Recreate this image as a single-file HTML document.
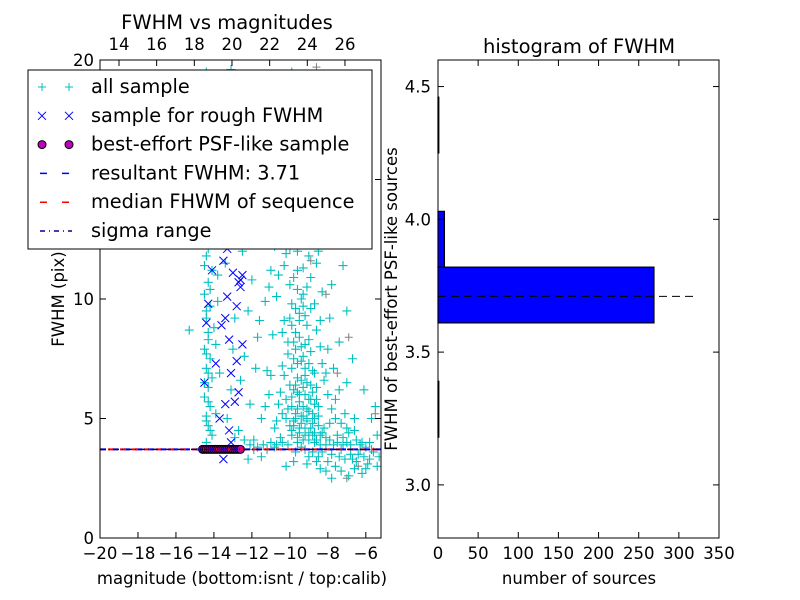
<!DOCTYPE html>
<html><head><meta charset="utf-8"><style>
body{margin:0;background:#fff;}
svg{display:block;font-family:"DejaVu Sans","Liberation Sans",sans-serif;}
</style></head><body>
<svg id="c" width="800" height="600" viewBox="0 0 800 600"></svg>
<script>
const cyanPts=[[-14.4,19.5],[-14.2,18.2],[-14.5,17],[-14.1,16.3],[-14.3,15.5],[-14.4,14.8],[-14.0,14.2],[-14.3,13.6],[-14.5,13],[-14.2,12.4],[-14.4,11.8],[-14.1,11.2],[-14.3,10.7],[-14.5,10.2],[-14.2,9.7],[-14.4,9.2],[-14.0,8.8],[-14.3,8.3],[-14.5,7.9],[-14.2,7.5],[-14.4,7.1],[-14.1,6.7],[-14.3,6.3],[-14.5,5.9],[-14.2,5.5],[-14.4,5.1],[-14.3,4.7],[-14.1,4.3],[-14.4,4.0],[-13.9,12.8],[-13.8,9.9],[-13.7,6.9],[-13.9,5.2],
[-14.3,19.0],[-14.4,17.6],[-14.2,16.8],[-14.5,15.9],[-14.3,14.3],[-14.4,12.9],[-14.3,12.1],[-14.5,11.4],[-14.2,10.4],[-14.4,9.5],[-14.3,8.6],[-14.4,7.7],[-14.3,6.9],[-14.5,6.5],[-14.3,5.7],[-14.4,4.9],[-14.2,4.5],[-13.9,8.1],[-13.8,11.0],[-13.9,15.0],
[-13.2,18.8],[-12.6,17.5],[-13,16],[-12.2,15.2],[-11.8,14],[-12.8,13.3],[-11.5,12.5],[-13.4,11.5],[-12,10.8],[-11.3,9.9],[-12.9,9.2],[-11.7,8.4],[-12.4,7.6],[-11.2,7.0],[-13.1,6.2],[-12.1,5.6],[-11.5,5.0],[-12.7,4.5],[-11.9,4.1],[-11,11.2],[-11.1,6],[-10.9,16.5],[-10.7,13.8],[-11.4,17.8],[-12.4,19.3],[-15.3,8.7],
[-10.5,12.8],[-10.2,11.9],[-9.8,12.4],[-9.6,11.2],[-10,10.6],[-9.3,10.2],[-9.9,9.8],[-9.5,9.4],[-10.3,9.1],[-9.1,8.9],[-9.7,8.6],[-10.1,8.2],[-9.4,8],[-8.9,7.8],[-9.8,7.5],[-10.4,7.2],[-9.2,7.1],[-8.7,6.9],[-9.6,6.7],[-10,6.4],[-9.3,6.3],[-8.8,6.1],[-9.9,5.9],[-9.5,5.7],[-10.6,5.6],[-8.5,5.5],[-9.1,5.4],[-9.7,5.2],[-10.2,5.0],[-8.7,5.0],[-9.4,4.8],[-8.9,4.6],[-9.9,4.5],[-8.3,4.4],[-9.2,4.3],[-10.5,4.2],[-8.6,4.1],[-9.6,4.0],[-8.1,3.9],[-7.9,4.8],[-7.5,4.3],[-7.2,3.9],[-6.8,3.5],[-7.0,4.6],[-6.5,3.2],[-6.2,4.0],[-5.8,3.3],[-5.5,5.5],[-6,2.9],[-7.6,5.8],[-8.2,6.6],[-8,7.9],[-8.4,9.1],[-9,13.5],[-8.6,11.5],[-9.3,15.2],[-8.8,14.2],[-10.1,14.8],[-9.5,16.8],[-8.2,12.4],[-7.8,10.6],[-7.4,8.2],[-10.7,10.1],[-10.9,8.5],[-11,6.8],[-10.8,4.6],[-9.8,3.2],[-8.4,2.9],[-9,3.4],[-10.2,3.0],[-7.8,2.5],[-6.9,2.6],[-5.4,3.0],[-11.5,3.4],[-12.2,3.3],[-9.9,19.5],[-8.9,17.8],[-10.4,18.5],[-7,6.5],[-6.6,5],[-8.3,3.6],[-9.4,3.8],[-10.8,3.8],[-7.3,3.7],[-6.3,3.7],[-5.7,3.7],[-11.9,3.7],[-11.2,3.7],
[-9.7,7.9],[-9.2,6.8],[-9.6,6.1],[-9.0,5.8],[-9.8,4.9],[-9.1,4.9],[-9.5,4.4],[-8.8,4.3],[-10.0,4.7],[-9.3,5.1],[-8.6,5.8],[-10.1,5.4],[-9.4,7.4],[-9.9,8.9],[-9.3,9.7],[-9.6,10.4],[-10.3,11.4],[-8.9,9.6],[-9.0,8.3]];
const denseCore=[[-9.8,8.2],[-9.5,8.4],[-9.2,8.1],[-9.9,7.1],[-9.6,7.3],[-9.3,7.6],[-9.0,7.3],[-8.8,7.0],[-9.7,6.4],[-9.4,6.6],[-9.1,6.5],[-8.9,6.4],[-8.6,6.3],[-9.8,6.2],[-9.5,6.0],[-9.2,6.0],[-8.9,5.8],[-8.7,5.6],[-9.9,5.5],[-9.6,5.4],[-9.3,5.5],[-9.0,5.3],[-8.8,5.2],[-8.5,5.1],[-9.7,5.0],[-9.4,5.1],[-9.1,5.0],[-8.8,4.8],[-8.5,4.7],[-8.2,4.6],[-9.8,4.7],[-9.5,4.6],[-9.2,4.6],[-9.0,4.4],[-8.7,4.4],[-8.4,4.3],[-8.1,4.2],[-9.9,4.3],[-9.6,4.2],[-9.3,4.1],[-9.0,4.1],[-8.7,4.0],[-8.4,3.9],[-7.9,4.1],[-7.7,3.9],[-7.5,4.0],[-7.2,4.2],[-7.0,4.0],[-6.8,3.9],[-6.5,4.1],[-6.3,3.9],[-6.0,3.8],[-5.8,4.0],[-5.6,3.6],[-7.8,3.5],[-7.4,3.4],[-7.1,3.3],[-6.7,3.3],[-6.4,3.5],[-6.1,3.4],[-5.9,3.1],[-10.4,4.0],[-10.7,3.9],[-11.0,4.0],[-11.4,3.9],[-11.7,3.8],[-12.1,3.9],[-10.1,3.9],[-9.7,3.6],[-9.2,3.7],[-8.8,3.6],[-8.5,3.4],[-8.0,3.2],[-8.6,3.2],[-9.1,3.1],[-7.6,3.0],[-7.3,2.8],[-6.6,2.9],[-6.2,2.7],[-8.1,2.8],[-9.5,9.1],[-9.2,9.3],[-9.7,9.6],[-9.4,10.0],[-9.1,10.5],[-9.8,10.9],[-9.3,11.3],[-9.0,11.8],[-9.6,12.0],[-10.0,12.1],[-9.4,12.7],[-9.7,13.2],[-9.1,12.9],[-8.8,13.1],[-10.2,13.4],[-9.5,13.8],[-8.9,10.9],[-8.7,9.8],[-8.6,8.7],[-8.4,8.0],[-8.3,7.3],[-8.1,6.9],[-8.0,6.0],[-7.8,5.4],[-7.6,5.0],[-7.3,4.8],[-7.1,5.2],[-6.9,4.4],[-6.6,4.5],[-10.3,6.8],[-10.5,6.1],[-10.2,5.8],[-10.4,5.2],[-10.7,4.9],[-10.1,7.7],[-10.4,8.6],[-10.0,9.2],[-8.5,12.0],[-8.3,10.3],[-7.9,9.2],[-7.7,7.1],[-7.4,6.2],[-10.6,11.0],[-10.8,12.2],[-11.2,13.1],[-11.6,15.4],[-12.3,16.5],[-11.9,18.3],[-12.9,17.0],[-13.3,14.2],[-13.5,15.8],[-13.1,19.6],[-11.0,19.0],[-10.3,16.0],[-9.0,16.3],[-8.4,15.0],[-7.8,12.8],[-7.2,11.4],[-7.0,9.5],[-6.7,7.5],[-6.1,6.2],[-5.7,5.0],[-5.4,4.3],[-5.3,3.4],[-12.5,12.0],[-12.2,9.5],[-11.8,7.1],[-12.6,6.6],[-13.0,7.9],[-13.3,5.0],[-12.9,4.2],[-12.4,4.1],[-11.3,5.5],[-11.6,9.1],[-11.1,10.5]];
const grayPts=[[-7.2,14.6],[-8.1,10.2],[-6.9,8.4],[-8.9,11.6],[-10.2,17.2],[-7.5,6.9],[-6.4,3.0],[-7.0,2.5],[-8.6,19.7],[-9.6,12.9],[-5.5,5.2]];
const blueX=[[-14.5,6.5],[-14.3,9.8],[-14.2,14.5],[-13.8,13.8],[-13.5,11.6],[-13.3,10.1],[-13.6,8.9],[-13.2,8.3],[-13.9,7.3],[-13.1,6.9],[-13.4,5.6],[-13.7,5.0],[-12.9,5.7],[-12.6,10.8],[-12.8,9.7],[-12.7,13.7],[-12.9,12.9],[-13.0,11.1],[-12.5,11.0],[-12.8,7.4],[-12.5,8.1],[-13.2,4.5],[-13.5,3.3],[-13.4,9.2],[-14.1,11.2],[-12.7,6.1],[-13.6,12.3],[-12.6,10.5],[-12.7,10.7],[-13.9,14.2],[-13.0,13.4],[-13.3,12.1],[-14.4,9.0],[-13.1,4.0]];
const psfMags=[-14.6,-14.5,-14.4,-14.3,-14.2,-14.1,-14.0,-13.9,-13.8,-13.7,-13.6,-13.5,-13.4,-13.3,-13.2,-13.1,-13.0,-12.9,-12.8,-12.7,-12.6];
const resultFWHM=3.71;
const histLow=[3.18,3.61,3.82,4.25];
const histCounts=[1,269,8,1];
const binWidth=0.21;
const leftXTicks=[-20,-18,-16,-14,-12,-10,-8,-6];
const leftYTicks=[0,5,10,15,20];
const topTicks=[14,16,18,20,22,24,26];
const rightXTicks=[0,50,100,150,200,250,300,350];
const rightYTicks=[3.0,3.5,4.0,4.5];

const NS="http://www.w3.org/2000/svg",svg=document.getElementById('c');
function el(t,a,p){const e=document.createElementNS(NS,t);for(const k in a)e.setAttribute(k,a[k]);(p||svg).appendChild(e);return e;}
function txt(s,a,p){const e=el('text',a,p);e.textContent=s;return e;}
const L={x0:100,x1:381,y0:538,y1:60,xmin:-20,xmax:-5.2,ymin:0,ymax:20};
const lx=v=>L.x0+(v-L.xmin)/(L.xmax-L.xmin)*(L.x1-L.x0);
const ly=v=>L.y0-(v-L.ymin)/(L.ymax-L.ymin)*(L.y0-L.y1);
const tx=v=>119+(v-14)*18.83;
const cp=el('clipPath',{id:'cl'});el('rect',{x:100,y:60,width:281,height:478},cp);
const gL=el('g',{'clip-path':'url(#cl)'});
const gg=el('g',{},gL);
grayPts.forEach(p=>{const x=lx(p[0]),y=ly(p[1]);
 const m=el('path',{d:`M${x-4} ${y}H${x+4}M${x} ${y-4}V${y+4}`,stroke:'#808080','stroke-width':1},gg);
 });
const gc=el('g',{},gL);
cyanPts.concat(denseCore).forEach(p=>{const x=lx(p[0]),y=ly(p[1]);
 const m=el('path',{d:`M${x-4.5} ${y}H${x+4.5}M${x} ${y-4.5}V${y+4.5}`,stroke:'#00bfbf','stroke-width':1.1},gc);
 });
const gb=el('g',{},gL);
blueX.forEach(p=>{const x=lx(p[0]),y=ly(p[1]);
 const m=el('path',{d:`M${x-4} ${y-4}L${x+4} ${y+4}M${x-4} ${y+4}L${x+4} ${y-4}`,stroke:'#0000ff','stroke-width':1},gb);
 });
const yr=ly(resultFWHM);
const gm=el('g',{},gL);
psfMags.forEach(m=>{const c=el('circle',{cx:lx(m),cy:yr,r:4,fill:'#bf00bf',stroke:'#000','stroke-width':1},gm);
 });
let l1=el('line',{x1:100,x2:381,y1:yr,y2:yr,stroke:'#0000ff','stroke-width':2,'stroke-dasharray':'6,6'},gL);

let l2=el('line',{x1:100,x2:381,y1:yr,y2:yr,stroke:'#ff0000','stroke-width':2,'stroke-dasharray':'6,6','stroke-dashoffset':4},gL);

let l3=el('line',{x1:100,x2:381,y1:yr,y2:yr,stroke:'#00008b','stroke-width':1.5,'stroke-dasharray':'6,3,1,3'},gL);

let fr=el('rect',{x:100,y:60,width:281,height:478,fill:'none',stroke:'#000','stroke-width':1});

leftXTicks.forEach(v=>{const x=lx(v);el('line',{x1:x,x2:x,y1:538,y2:532,stroke:'#000'});
 const t=txt('\u2212'+Math.abs(v),{x:x,y:559,'text-anchor':'middle','font-size':16.5});});
leftYTicks.forEach(v=>{const y=ly(v);el('line',{x1:100,x2:106,y1:y,y2:y,stroke:'#000'});el('line',{x1:381,x2:375,y1:y,y2:y,stroke:'#000'});
 const t=txt(v,{x:94,y:y+6,'text-anchor':'end','font-size':16.5});});
topTicks.forEach(v=>{const x=tx(v);el('line',{x1:x,x2:x,y1:60,y2:66,stroke:'#000'});
 const t=txt(v,{x:x,y:50,'text-anchor':'middle','font-size':16.5});});
let t1=txt('FWHM vs magnitudes',{x:227,y:29,'text-anchor':'middle','font-size':19.5});
let t2=txt('magnitude (bottom:isnt / top:calib)',{x:242,y:584,'text-anchor':'middle','font-size':16.5});
let t3=txt('FWHM (pix)',{x:0,y:0,'text-anchor':'middle','font-size':16.5,transform:'translate(64,299) rotate(-90)'});
const lg=el('g',{});
el('rect',{x:28,y:70,width:344,height:179,fill:'#fff',stroke:'#000'},lg);
const labels=['all sample','sample for rough FWHM','best-effort PSF-like sample','resultant FWHM: 3.71','median FHWM of sequence','sigma range'];
labels.forEach((s,i)=>{const y=87+i*28.8,g=el('g',{},lg);
 [42,69].forEach(x=>{
  if(i==0)el('path',{d:`M${x-4} ${y}H${x+4}M${x} ${y-4}V${y+4}`,stroke:'#00bfbf'},g);
  if(i==1)el('path',{d:`M${x-4} ${y-4}L${x+4} ${y+4}M${x-4} ${y+4}L${x+4} ${y-4}`,stroke:'#0000ff'},g);
  if(i==2)el('circle',{cx:x,cy:y,r:4,fill:'#bf00bf',stroke:'#000'},g);});
 if(i==3)el('line',{x1:40,x2:72,y1:y,y2:y,stroke:'#0000ff','stroke-width':1.5,'stroke-dasharray':'7,15'},g);
 if(i==4)el('line',{x1:40,x2:72,y1:y,y2:y,stroke:'#ff0000','stroke-width':1.5,'stroke-dasharray':'7,15'},g);
 if(i==5)el('line',{x1:40,x2:72,y1:y,y2:y,stroke:'#00008b','stroke-width':1.5,'stroke-dasharray':'5,4,1,4'},g);
 txt(s,{x:91,y:y+6,'font-size':19.3},g);});
const R={x0:438,x1:719,y0:538,y1:60,xmax:350,ymin:2.8,ymax:4.6};
const rx=v=>R.x0+v/R.xmax*(R.x1-R.x0);
const ry=v=>R.y0-(v-R.ymin)/(R.ymax-R.ymin)*(R.y0-R.y1);
histLow.forEach((lo,i)=>{const y1=ry(lo+binWidth),y2=ry(lo);
 const b=el('rect',{x:rx(0),y:y1,width:rx(histCounts[i])-rx(0),height:y2-y1,fill:'#0000ff',stroke:'#000','stroke-width':1.2});
 });
let hl=el('line',{x1:438,x2:rx(320),y1:ry(resultFWHM),y2:ry(resultFWHM),stroke:'#000','stroke-width':1,'stroke-dasharray':'8,5'});

let fr2=el('rect',{x:438,y:60,width:281,height:478,fill:'none',stroke:'#000'});
rightXTicks.forEach(v=>{const x=rx(v);el('line',{x1:x,x2:x,y1:538,y2:532,stroke:'#000'});el('line',{x1:x,x2:x,y1:60,y2:66,stroke:'#000'});
 const t=txt(v,{x:x,y:559,'text-anchor':'middle','font-size':16.5});});
rightYTicks.forEach(v=>{const y=ry(v);el('line',{x1:438,x2:444,y1:y,y2:y,stroke:'#000'});el('line',{x1:719,x2:713,y1:y,y2:y,stroke:'#000'});
 const t=txt(v.toFixed(1),{x:431,y:y+6,'text-anchor':'end','font-size':16.5});});
let t4=txt('histogram of FWHM',{x:579,y:53,'text-anchor':'middle','font-size':19.5});
let t5=txt('number of sources',{x:579,y:584,'text-anchor':'middle','font-size':16.5});
let t6=txt('FWHM of best-effort PSF-like sources',{x:0,y:0,'text-anchor':'middle','font-size':16.5,transform:'translate(397,299) rotate(-90)'});
</script>
</body></html>
